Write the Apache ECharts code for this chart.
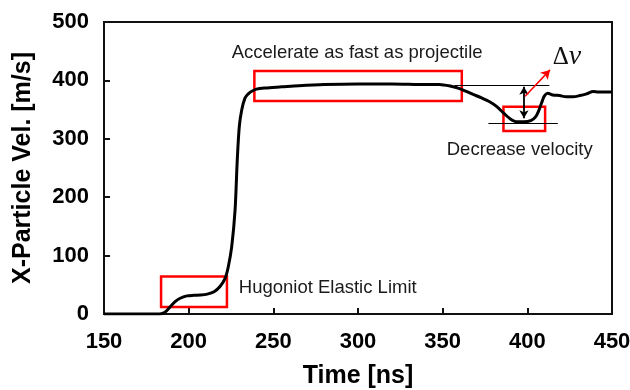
<!DOCTYPE html>
<html>
<head>
<meta charset="utf-8">
<script src="https://cdn.jsdelivr.net/npm/echarts@6/dist/echarts.min.js"></script>
<style>html,body{margin:0;padding:0;background:#fff}#c{width:630px;height:390px}</style>
</head>
<body>
<div id="c"></div>
<script>
// ---- data ----
var timeNs = [150,160,170,180,183,186,189,192,195,199,203,207,211,215,218.5,221.5,223.4,225.4,227.4,228.7,229.9,231.3,233.3,235.2,237,240,245,255,265,280,300,320,340,348,355,360,364,368,373,378,382,386,390,394,398,402,405,407,408.5,410,412,415,419,423,427,431,435,439,442,446,450];
var velocity = [0,0,0,0,0,3,12,21,27,31,32,32.5,34,38,47,61,81,115,178,264,321,349,370,377,381,385,387,389,391,393,394,394,393,393,390,386,381,376,370,363,355,344,334,329,329,331,338,350,362,373,378,375,374,372,372,374,377,381,380,380,380];
var xTicks = {min:150, max:450, interval:50};
var yTicks = {min:0, max:500, interval:100};
var xTitle = 'Time [ns]';
var yTitle = 'X-Particle Vel. [m/s]';
// highlight boxes: [t0, v0, t1, v1]
var boxes = [[183.7,12,222.6,64],[238.8,364.7,361.3,416],[385.9,313.4,410.5,355]];
// reference lines: [t0, v0, t1, v1]
var refLines = [[357,392,413,392],[377,326.5,418,326.5]];
var dvArrow = [398,389,398,335];
var redArrow = [398.7,373,413.4,418];
// annotation texts: [text, t, v]
var notes = [['Accelerate as fast as projectile',225.4,447],['Hugoniot Elastic Limit',229.6,44.5],['Decrease velocity',352.4,280.8]];
var dvLabel = [415.0,440];

// ---- chart ----
var chart = echarts.init(document.getElementById('c'), null, {renderer:'canvas'});
var series = [{
  type:'line',
  data: timeNs.map(function(t,i){return [t, velocity[i]];}),
  showSymbol:false,
  smooth:0.3,
  lineStyle:{color:'#000', width:3},
  z:3,
  markArea:{
    silent:true,
    itemStyle:{color:'rgba(0,0,0,0)', borderColor:'#ff0000', borderWidth:2.5},
    data: boxes.map(function(b){return [{coord:[b[0],b[1]]},{coord:[b[2],b[3]]}];})
  },
  markLine:{
    silent:true,
    animation:false,
    label:{show:false},
    data: refLines.map(function(l){return [{coord:[l[0],l[1]], symbol:'none', lineStyle:{color:'#000',width:1.2,type:'solid'}},{coord:[l[2],l[3]], symbol:'none'}];})
      .concat([
        [{coord:[dvArrow[0],dvArrow[1]], symbol:'arrow', symbolSize:[7,8], lineStyle:{color:'#000',width:1.8,type:'solid'}},{coord:[dvArrow[2],dvArrow[3]], symbol:'arrow', symbolSize:[7,8]}],
        [{coord:[redArrow[0],redArrow[1]], symbol:'none', lineStyle:{color:'#ff0000',width:1.5,type:'solid'}},{coord:[redArrow[2],redArrow[3]], symbol:'arrow', symbolSize:[8,9]}]
      ])
  },
  markPoint:{
    silent:true,
    symbol:'circle',
    symbolSize:0,
    data: notes.map(function(n){return {coord:[n[1],n[2]], label:{show:true, formatter:n[0], position:'inside', align:'left', verticalAlign:'middle', color:'#1a1a1a', fontSize:18.5, fontFamily:'Liberation Sans, Arial, sans-serif'}};})
      .concat([{coord:dvLabel, label:{show:true, formatter:'{a|Δ}{b|v}', position:'inside', align:'left', verticalAlign:'middle', rich:{a:{fontSize:25, fontFamily:'Liberation Serif, serif', color:'#111'}, b:{fontSize:28, fontStyle:'italic', fontFamily:'Liberation Serif, serif', color:'#111'}}}}])
  }
}];

chart.setOption({
  animation:false,
  backgroundColor:'#fff',
  grid:{left:104, right:18, top:22, bottom:76, containLabel:false, outerBoundsMode:'none', show:true, borderColor:'#111', borderWidth:2, backgroundColor:'transparent'},
  xAxis:{
    type:'value', min:xTicks.min, max:xTicks.max, interval:xTicks.interval,
    name:xTitle, nameLocation:'middle', nameGap:50,
    nameTextStyle:{fontSize:25, fontWeight:'bold', color:'#000', fontFamily:'Liberation Sans, Arial, sans-serif'},
    axisLine:{show:true, lineStyle:{color:'#111', width:2}},
    axisTick:{show:true, inside:true, length:6, lineStyle:{color:'#111', width:2}},
    axisLabel:{fontSize:22, fontWeight:'bold', color:'#000', margin:17, fontFamily:'Liberation Sans, Arial, sans-serif'},
    splitLine:{show:false}
  },
  yAxis:{
    type:'value', min:yTicks.min, max:yTicks.max, interval:yTicks.interval,
    name:yTitle, nameLocation:'middle', nameGap:68,
    nameTextStyle:{fontSize:25, fontWeight:'bold', color:'#000', fontFamily:'Liberation Sans, Arial, sans-serif'},
    axisLine:{show:true, lineStyle:{color:'#111', width:2}},
    axisTick:{show:true, inside:true, length:6, lineStyle:{color:'#111', width:2}},
    axisLabel:{fontSize:22, fontWeight:'bold', color:'#000', margin:15, fontFamily:'Liberation Sans, Arial, sans-serif'},
    splitLine:{show:false}
  },
  series:series
});
</script>
</body>
</html>
